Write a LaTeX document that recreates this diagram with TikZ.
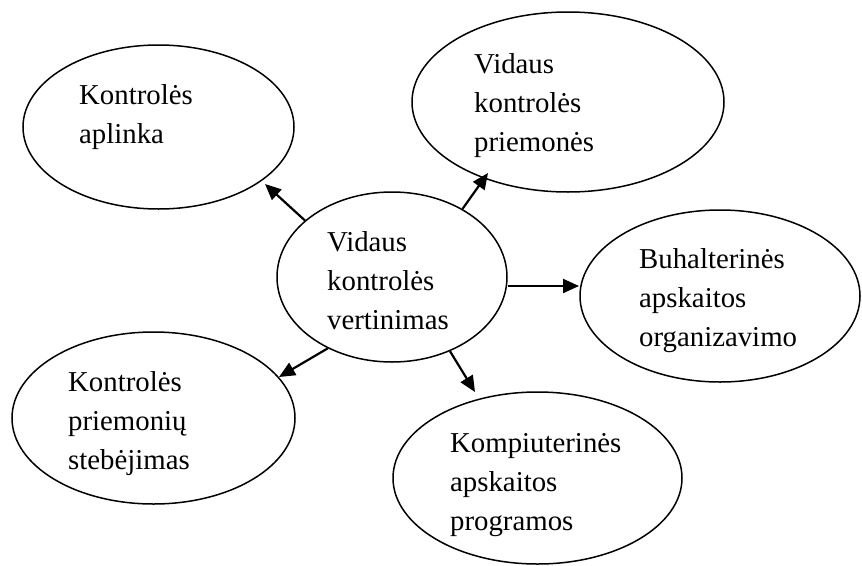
\documentclass[tikz,border=0pt]{standalone}
\usepackage{fontspec}
\setmainfont{Liberation Serif}
\usetikzlibrary{shapes.geometric,arrows.meta}
\newcommand{\stack}[1]{\begin{tabular}[t]{@{}l@{}}#1\end{tabular}}
\begin{document}
\begin{tikzpicture}[x=1pt,y=-1pt,
  bubble/.style={draw,ellipse,line width=1.5pt,inner sep=0pt},
  caption/.style={anchor=base west,inner sep=0pt,font={\fontsize{28.8}{39}\selectfont}},
  link/.style={line width=2.2pt,-{Triangle[length=16pt,width=14pt]}}]
\useasboundingbox (0,0) rectangle (862,565);

% central ellipse and the five surrounding ones
\node[bubble,minimum width=230pt,minimum height=170pt] (c)   at (392,277) {};
\node[bubble,minimum width=271pt,minimum height=164pt] (kl)  at (158.5,127) {};
\node[bubble,minimum width=312pt,minimum height=180pt] (vkp) at (568,102) {};
\node[bubble,minimum width=280pt,minimum height=172pt] (buh) at (720,296) {};
\node[bubble,minimum width=283pt,minimum height=172pt] (kps) at (153.5,418) {};
\node[bubble,minimum width=289pt,minimum height=172pt] (kap) at (537.5,478) {};

% texts, left aligned inside the ellipses
\node[caption] (tc)   at (327,251) {\stack{Vidaus\\kontrolės\\vertinimas}};
\node[caption] (tkl)  at (79,104)  {\stack{Kontrolės\\aplinka}};
\node[caption] (tvkp) at (474,73)  {\stack{Vidaus\\kontrolės\\priemonės}};
\node[caption] (tbuh) at (639,268) {\stack{Buhalterinės\\apskaitos\\organizavimo}};
\node[caption] (tkps) at (68,391)  {\stack{Kontrolės\\priemonių\\stebėjimas}};
\node[caption] (tkap) at (450,452) {\stack{Kompiuterinės\\apskaitos\\programos}};

% arrow tips, just short of the outer ellipses
\coordinate (pkl)  at (265,184);
\coordinate (pvkp) at (488,173);
\coordinate (pbuh) at (579,286);
\coordinate (pkps) at (279,377);
\coordinate (pkap) at (475,392);

\draw[link] (c.147) -- (pkl);
\draw[link] (c.44)  -- (pvkp);
\draw[link] (c.east |- pbuh) -- (pbuh);
\draw[link] (c.228) -- (pkps);
\draw[link] (c.308) -- (pkap);
\end{tikzpicture}
\end{document}
